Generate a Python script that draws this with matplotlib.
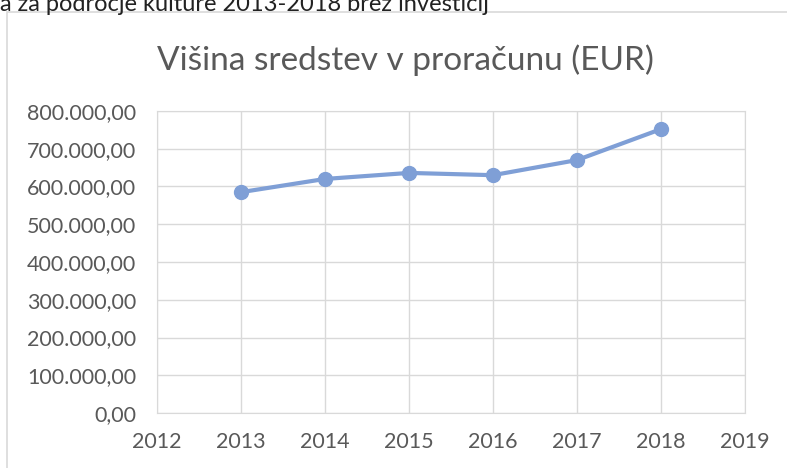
import matplotlib.pyplot as plt
from matplotlib.patches import Rectangle
from matplotlib.ticker import FuncFormatter

years = [2013, 2014, 2015, 2016, 2017, 2018]
budget = [585000, 620000, 636000, 630000, 670000, 752000]

plt.rcParams['font.family'] = ['Lato', 'DejaVu Sans']

fig = plt.figure(figsize=(7.87, 4.68), dpi=100)

# heading above the chart, cut by the scan
fig.text(0.0, 0.99, "a za področje kulture 2013-2018 brez investicij",
         fontsize=17, color='#222222', va='center', ha='left')

# chart frame
fig.patches.append(Rectangle((7 / 787, -0.05), 1.0, 1 - 12 / 468 + 0.05,
                             transform=fig.transFigure, fill=False,
                             edgecolor='#d9d9d9', linewidth=1.2))

ax = fig.add_axes([157 / 787, 1 - 413 / 468, 588 / 787, 302 / 468])
ax.plot(years, budget, color='#7f9fd6', linewidth=3, marker='o',
        markersize=10, zorder=3)

ax.set_xlim(2012, 2019)
ax.set_ylim(0, 800000)
ax.set_xticks(range(2012, 2020))
ax.set_yticks(range(0, 800001, 100000))

def fmt(v, pos):
    s = f"{v:,.2f}"
    return s.replace(',', 'X').replace('.', ',').replace('X', '.')

ax.yaxis.set_major_formatter(FuncFormatter(fmt))
ax.grid(True, color='#d9d9d9', linewidth=1)
for sp in ax.spines.values():
    sp.set_color('#d9d9d9')
ax.tick_params(length=0, labelsize=15.5, colors='#595959')
ax.tick_params(axis='y', pad=15)
ax.tick_params(axis='x', pad=14)

fig.text(405 / 787, 1 - 60 / 468, "Višina sredstev v proračunu (EUR)",
         fontsize=24, color='#595959', ha='center', va='center')

fig.savefig('out.png', dpi=100)
